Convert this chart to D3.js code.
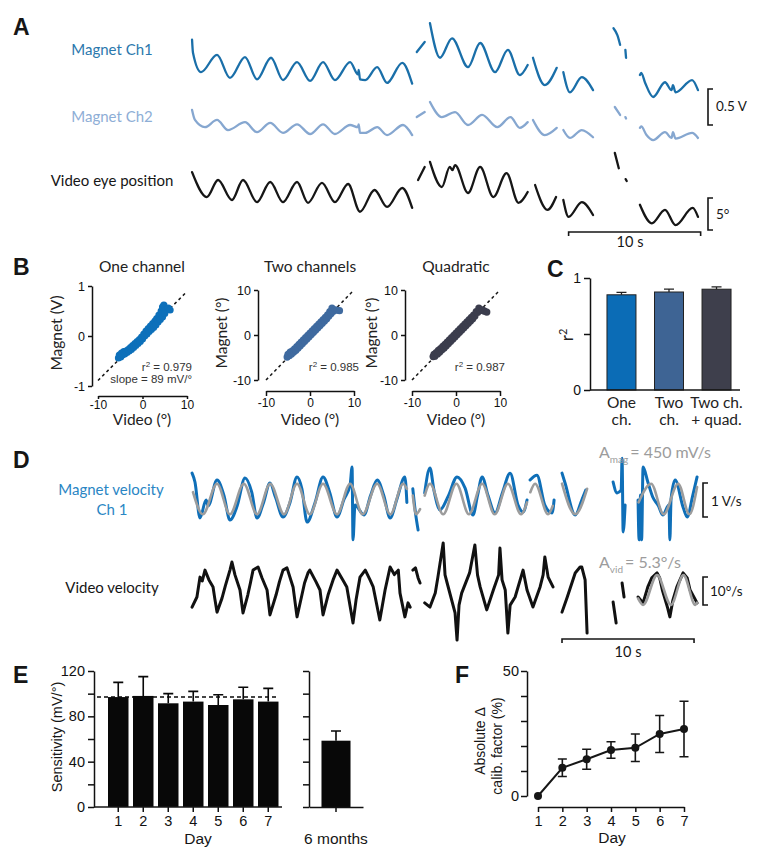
<!DOCTYPE html>
<html lang="en">
<head>
<meta charset="UTF-8">
<title>Magnet eye tracking calibration</title>
<script src="https://cdn.jsdelivr.net/npm/d3@7"></script>
<style>
  body { margin: 0; background: #fff; }
  svg text { font-family: Lato, "Open Sans", sans-serif; }
  .axis path, .axis line { stroke: #111; stroke-width: 1.5px; }
  .axis text { font-family: "Liberation Sans", Arial, sans-serif; fill: #111; }
  .num { font-family: "Liberation Sans", Arial, sans-serif !important; }
  .letter { font-family: "Liberation Sans", Arial, sans-serif !important; font-weight: bold; font-size: 23px; }
</style>
</head>
<body>
<script>
// ---------- A: position traces, [time s, value] per recording segment
const aCh1 = [
  [[0.08,0.42],[0.15,0.24],[0.76,-0.03],[1.97,0.21],[2.95,-0.11],[4.09,0.18],[5.0,-0.13],[6.06,0.17],[6.97,-0.14],[8.03,0.11],[9.02,-0.15],[10.0,0.11],[10.9,-0.14],[12.05,0.11],[12.65,-0.06],[12.7,0.0],[12.8,-0.13],[13.2,-0.14],[14.1,0.04],[14.85,-0.18],[16.0,0.10],[16.75,-0.19]],
  [[17.1,0.25],[17.4,0.32],[17.7,0.39]],
  [[18.1,0.65],[18.86,0.17],[19.77,0.44],[20.98,0.04],[21.9,0.375],[23.03,-0.03],[24.0,0.28],[24.9,-0.07],[25.5,0.07]],
  [[25.9,0.17],[26.8,-0.21],[27.7,0.03]],
  [[28.2,-0.03],[28.7,-0.31],[29.6,-0.10],[30.45,-0.28]],
  [[32.0,0.58],[32.3,0.48],[32.5,0.35]],
  [[32.9,0.28],[32.95,0.17]],
  [[34.0,-0.07],[34.1,-0.04],[34.4,-0.18],[35.0,-0.375],[35.9,-0.17],[36.4,-0.28],[36.5,-0.21],[36.7,-0.31],[37.95,-0.14],[38.4,-0.28]]
];
const aCh2 = [
  [[0.08,0.21],[0.3,0.07],[1.06,-0.03],[1.97,0.07],[2.8,-0.07],[4.09,0.04],[5.0,-0.10],[6.0,0.03],[6.97,-0.11],[8.03,0.01],[9.02,-0.125],[10.0,0.01],[10.9,-0.125],[12.05,0.0],[12.65,-0.03],[12.7,0.01],[12.8,-0.11],[13.2,-0.11],[14.1,-0.03],[14.85,-0.14],[16.06,0.0],[16.75,-0.14]],
  [[17.1,0.11],[17.7,0.18]],
  [[18.1,0.32],[19.0,0.11],[20.0,0.18],[20.98,0.0],[22.05,0.14],[23.2,-0.03],[24.2,0.11],[24.9,-0.04],[25.5,0.04]],
  [[25.9,0.07],[26.8,-0.14],[27.7,-0.04]],
  [[28.2,-0.07],[28.7,-0.18],[29.6,-0.07],[30.45,-0.17]],
  [[32.1,0.25],[32.5,0.14]],
  [[32.9,0.11],[32.95,0.09]],
  [[34.0,-0.04],[34.1,-0.02],[34.5,-0.14],[35.0,-0.21],[35.9,-0.10],[36.4,-0.18],[36.5,-0.10],[36.7,-0.19],[37.95,-0.11],[38.4,-0.18]]
];
const aVid = [
  [[0.08,2.8],[1.2,-1.1],[2.05,1.56],[3.1,-1.56],[3.94,1.56],[5.0,-1.9],[6.0,1.25],[6.97,-1.9],[8.03,1.25],[8.86,-2.0],[9.92,1.1],[10.9,-1.9],[11.9,0.94],[12.8,-3.4],[13.9,0.0],[14.85,-2.65],[16.0,0.31],[16.75,-2.8]],
  [[17.2,1.56],[17.7,3.6]],
  [[18.1,4.4],[19.0,0.47],[19.6,3.6],[19.8,3.1],[20.0,3.9],[20.98,-0.47],[21.9,3.6],[22.9,-1.1],[23.9,2.65],[24.8,-2.0],[25.5,-0.31]],
  [[26.06,0.78],[27.0,-3.1],[27.65,-1.1]],
  [[28.2,-1.56],[28.6,-4.2],[29.6,-1.9],[30.45,-3.9]],
  [[32.1,5.8],[32.4,3.4]],
  [[32.92,1.7],[33.0,1.4]],
  [[34.0,-2.3],[34.9,-5.2],[35.9,-3.1],[36.7,-5.5],[38.0,-2.8],[38.4,-4.2]]
];

// ---------- D: velocity traces (V/s and deg/s) and sine fits
const dMag = [
  [[0.08,0.76],[0.3,0.5],[0.68,-0.56],[1.14,-0.03],[1.3,-0.2],[1.97,0.56],[2.5,0.1],[2.95,-0.62],[3.5,-0.2],[4.09,0.62],[4.6,0.2],[5.0,-0.56],[5.5,-0.1],[5.98,0.47],[6.4,0.05],[6.97,-0.53],[7.5,-0.1],[8.03,0.65],[8.4,0.3],[8.79,-0.68],[9.4,-0.1],[10.0,0.65],[10.5,0.2],[11.06,-0.53],[11.6,0.0],[12.05,0.41],[12.2,0.94],[12.27,-1.2],[12.42,-0.18],[13.1,-0.47],[13.6,0.1],[14.1,0.56],[14.6,0.1],[15.08,-0.56],[15.6,0.0],[16.2,0.65],[16.35,-0.1]],
  [[16.8,0.3],[17.0,-0.4],[17.2,-0.91]],
  [[17.7,0.18],[18.1,0.91],[18.4,0.26],[18.86,-0.32],[19.5,0.1],[20.15,0.65],[20.76,0.32],[21.36,-0.47],[21.7,0.1],[22.05,0.65],[22.5,0.1],[23.03,-0.41],[23.6,0.2],[24.17,0.76],[24.77,-0.18],[25.15,-0.38],[25.45,-0.03]],
  [[25.68,0.56],[26.2,0.7],[26.8,-0.18],[27.35,-0.41],[27.5,-0.03]],
  [[28.1,0.76],[28.33,0.47],[29.1,-0.47],[29.6,-0.03],[29.9,0.26]],
  [[31.97,0.5],[32.27,0.18],[32.58,0.26],[32.65,1.2],[32.73,-0.97],[32.88,-0.18]],
  [[33.86,-0.03],[33.94,-1.2],[34.05,0.12],[34.13,-1.2],[34.24,0.94],[34.6,0.5],[34.97,0.06],[35.4,-0.2],[35.73,-0.47],[36.2,-0.18],[36.27,-1.2],[36.36,0.0],[36.67,0.56],[37.27,-0.24],[37.58,-0.53],[38.0,0.1],[38.33,0.65]]
];
const dMagFit = [
  [[0.15,0.2],[0.9,-0.45],[1.97,0.45],[2.95,-0.45],[4.0,0.45],[5.0,-0.45],[6.0,0.45],[7.05,-0.45],[8.03,0.45],[9.0,-0.45],[10.0,0.45],[11.06,-0.45],[12.05,0.45],[13.0,-0.45],[14.1,0.45],[15.1,-0.45],[16.06,0.45],[16.35,0.3]],
  [[16.8,0.1],[17.05,-0.45],[17.35,-0.3]],
  [[17.7,0.1],[18.1,0.45],[19.1,-0.45],[20.1,0.45],[21.05,-0.45],[22.05,0.45],[23.0,-0.45],[24.0,0.45],[25.0,-0.45],[25.45,-0.1]],
  [[25.7,0.2],[26.06,0.45],[27.05,-0.45],[27.4,-0.2]],
  [[28.1,0.45],[29.1,-0.45],[30.0,0.3]],
  [[33.9,-0.1],[34.85,0.45],[35.8,-0.45],[36.9,0.45],[37.75,-0.45],[38.33,0.35]]
];
const dVid = [
  [[0.08,-6.1],[0.45,-2.5],[0.68,4.6],[0.85,3.2],[1.06,7.1],[1.36,3.6],[1.67,1.1],[1.8,-3],[1.97,-7.9],[2.35,-2.9],[2.6,1.5],[2.95,7.1],[3.1,10],[3.33,5.4],[3.71,0],[3.94,-8.2],[4.3,-1.8],[4.5,2.5],[4.7,7.1],[5.08,8.2],[5.38,4.3],[5.76,0],[5.98,-8.9],[6.44,-1.8],[6.7,3],[6.97,7.1],[7.27,7.9],[7.73,1.1],[8.03,-9.6],[8.4,-1.8],[8.6,2.5],[8.86,6.1],[9.0,7.1],[9.47,2.9],[9.77,0],[10.0,-8.9],[10.38,-1.8],[10.76,3.6],[11.06,7.1],[11.5,3.6],[11.8,1.1],[12.27,-11.8],[12.5,-3.6],[12.8,4.6],[13.2,7.1],[13.56,3.6],[13.8,1.1],[14.3,-10.7],[14.7,0],[15.08,8.2],[15.4,5.5],[15.7,7.1],[15.83,-1.1],[16.2,-9.6],[16.44,-4.6],[16.6,-6.1]],
  [[16.8,7.1],[17.0,7.9],[17.2,4.3],[17.35,2.5]],
  [[17.7,-4.6],[18.1,-6.1],[18.5,-1.1],[18.7,4.6],[19.1,16.8],[19.24,5.4],[19.4,2.5],[20.0,-8.2],[20.15,-17.9],[20.3,-5.4],[20.5,-1.1],[21.1,6.1],[21.5,16.1],[21.7,5.4],[21.9,1.1],[22.4,-7.1],[22.9,0],[23.3,5.4],[23.4,15],[23.56,3.6],[23.8,0],[24.0,-15.4],[24.17,-5.4],[24.55,-2.5],[25.15,7.1],[25.45,0],[25.9,-6.1],[26.44,1.1],[26.67,5.4],[26.8,11.8],[27.05,4.6],[27.42,1.1]],
  [[28.1,-7.9],[28.5,-2.5],[29.1,6.1],[29.47,8.2],[29.6,8.2],[29.85,3.6],[30.0,-15.4]],
  [[31.97,-4.3],[32.2,-11.8]],
  [[32.65,2.5],[32.8,-2.5]],
  [[33.86,-2.5],[34.24,-4.6],[34.6,1.1],[34.9,4.3],[35.3,6.1],[35.5,4.3],[35.7,0],[36.1,-6.4],[36.27,-9.6],[36.5,-3.6],[36.8,1.1],[37.27,6.1],[37.58,4.3],[37.8,0],[38.33,-4.6]]
];
const dVidFit = [
  [[33.86,-3],[34.24,-5.3],[35.3,5.3],[36.35,-5.3],[37.3,5.3],[38.2,-5.3],[38.33,-4.5]]
];

// ---------- B: magnet vs video scatter, [video deg, magnet]
const bTitles = ["One channel", "Two channels", "Quadratic"];
const bYLabels = ["Magnet (V)", "Magnet (\u00B0)", "Magnet (\u00B0)"];
const bR2 = ["0.979", "0.985", "0.987"];
const bSlopes = [0.089, 1, 1];
const oneCh = [[-5.4,-0.44],[-5.2,-0.38],[-4.9,-0.42],[-4.7,-0.34],[-4.5,-0.38],[-4.2,-0.31],[-4,-0.36],[-3.7,-0.3],[-3.5,-0.33],[-3.2,-0.27],[-3,-0.3],[-2.7,-0.23],[-2.5,-0.27],[-2.2,-0.19],[-2,-0.23],[-1.7,-0.15],[-1.5,-0.19],[-1.2,-0.11],[-1,-0.15],[-0.7,-0.07],[-0.5,-0.11],[-0.2,-0.02],[0,-0.06],[0.3,0.04],[0.5,0],[0.8,0.1],[1,0.04],[1.3,0.15],[1.5,0.09],[1.8,0.2],[2,0.13],[2.3,0.25],[2.5,0.17],[2.8,0.3],[3,0.22],[3.2,0.35],[3.5,0.28],[3.7,0.42],[4,0.33],[4.2,0.5],[4.5,0.38],[4.5,0.58],[4.8,0.62],[5,0.45],[5.3,0.52],[5.8,0.56],[6.2,0.52]];
const twoCh = [[-5.2,-4.9],[-5,-4.3],[-4.7,-4.6],[-4.5,-3.8],[-4.2,-4.2],[-4,-3.5],[-3.7,-3.8],[-3.5,-3.1],[-3.2,-3.4],[-3,-2.6],[-2.7,-2.9],[-2.5,-2.1],[-2.2,-2.4],[-2,-1.6],[-1.7,-1.9],[-1.5,-1.1],[-1.2,-1.4],[-1,-0.6],[-0.7,-0.9],[-0.5,-0.1],[-0.2,-0.4],[0,0.4],[0.3,0.1],[0.5,0.9],[0.8,0.6],[1,1.4],[1.3,1.1],[1.5,1.9],[1.8,1.6],[2,2.4],[2.3,2.1],[2.5,2.9],[2.8,2.6],[3,3.4],[3.3,3.1],[3.5,3.9],[3.8,3.6],[4,4.5],[4.3,4.2],[4.5,5.2],[4.8,4.8],[5,6],[5.3,5.3],[5.7,5.6],[6.2,5.5],[6.7,5.4]];
const quadFit = [[-5.2,-4.8],[-5,-4.3],[-4.8,-4.7],[-4.5,-3.9],[-4.2,-4.2],[-4,-3.4],[-3.7,-3.8],[-3.5,-3],[-3.2,-3.3],[-3,-2.5],[-2.7,-2.9],[-2.5,-2.1],[-2.2,-2.4],[-2,-1.6],[-1.7,-1.9],[-1.5,-1.1],[-1.2,-1.4],[-1,-0.6],[-0.7,-0.9],[-0.5,-0.1],[-0.2,-0.4],[0,0.4],[0.3,0.1],[0.5,0.9],[0.8,0.6],[1,1.4],[1.3,1.1],[1.5,1.9],[1.8,1.6],[2,2.4],[2.3,2.1],[2.5,2.9],[2.8,2.6],[3,3.4],[3.3,3.1],[3.5,3.9],[3.8,3.6],[4,4.4],[4.3,4.2],[4.6,5.2],[4.9,5],[5.2,6],[5.5,5.4],[6,5.6],[6.5,5.3],[7,5.1]];

// ---------- C: r^2 per calibration model
const cCats = [["One", "ch."], ["Two", "ch."], ["Two ch.", "+ quad."]];
const cR2 = [0.85, 0.875, 0.90];
const cSem = [0.022, 0.025, 0.02];

// ---------- E: sensitivity per day
const eDays = [1, 2, 3, 4, 5, 6, 7];
const eSens = [97, 98, 91.5, 93, 90, 95, 93];
const eErr = [13, 17, 8.5, 9, 9, 10.6, 11.7];
const eMean = 97;
const eLate = ["6 months"];
const eLateSens = [58.5];
const eLateErr = [8.5];

// ---------- F: absolute change of calibration factor
const fDays = [1, 2, 3, 4, 5, 6, 7];
const fVals = [0, 11.3, 14.7, 18.4, 19.3, 24.8, 26.8];
const fErr = [0, 3.5, 4, 3.3, 5.5, 7.4, 11.1];

const BLUE = "#1a6fa9", LIGHT = "#86a7d0", INK = "#161616", GREY = "#9c9c9c";

const svg = d3.select("body").append("svg").attr("width", 764).attr("height", 852);

function txt(x, y, s, size, anchor, fill) {
  return svg.append("text").attr("x", x).attr("y", y).attr("font-size", size)
    .attr("text-anchor", anchor || "start").attr("fill", fill || INK).text(s);
}
function letter(x, y, s) { txt(x, y, s, 23).attr("class", "letter"); }
function styleAxis(g, fs) {
  g.attr("class", "axis").attr("font-size", fs);
  return g;
}
function vBracket(x, y0, y1) {
  svg.append("path").attr("d", `M${x + 5},${y0}H${x}V${y1}H${x + 5}`)
    .attr("fill", "none").attr("stroke", INK).attr("stroke-width", 1.6);
}
function hBar(x0, x1, y) {
  svg.append("path").attr("d", `M${x0},${y + 4}V${y}H${x1}V${y + 4}`)
    .attr("fill", "none").attr("stroke", INK).attr("stroke-width", 1.6);
}

// shared time axis for A and D
const xT = d3.scaleLinear().domain([0, 38.4]).range([191, 698]);
function traces(segs, y, color, w, curve) {
  const line = d3.line().x(d => xT(d[0])).y(d => y(d[1])).curve(curve || d3.curveLinear);
  svg.append("g").selectAll("path").data(segs).join("path")
    .attr("d", line).attr("fill", "none").attr("stroke", color).attr("stroke-width", w)
    .attr("stroke-linejoin", "round").attr("stroke-linecap", "round");
}

// ================= A
letter(13, 35, "A");
const yCh1 = d3.scaleLinear().domain([-0.5, 0.5]).range([106, 34]);
const yCh2 = d3.scaleLinear().domain([-0.5, 0.5]).range([161, 89]);
const yPos = d3.scaleLinear().domain([-5, 5]).range([222, 158]);
txt(112, 55, "Magnet Ch1", 15, "middle", "#2b78ad");
txt(112, 122, "Magnet Ch2", 15, "middle", "#8eaed6");
txt(112, 186, "Video eye position", 15, "middle");
traces(aCh1, yCh1, BLUE, 2.3, d3.curveMonotoneX);
traces(aCh2, yCh2, LIGHT, 2.3, d3.curveMonotoneX);
traces(aVid, yPos, INK, 2.3, d3.curveMonotoneX);
vBracket(708, yCh2(0.5), yCh2(0));
txt(716, 111, "0.5 V", 13.5);
vBracket(708, yPos(-1.25), yPos(-6.25));
txt(716, 219, "5\u00B0", 13.5);
hBar(xT(28.6), xT(38.6), 232);
txt(630, 247, "10 s", 14.5, "middle");

// ================= B
letter(13, 275, "B");
const bCfg = [
  { pts: oneCh, color: "#0d70ba", xr: [98, 187], yr: [386, 286], yd: [-1, 1], yt: [-1, 0, 1], ax: 396, ay: 92, lx: 62, tx: 142 },
  { pts: twoCh, color: "#3f6a9f", xr: [266, 354], yr: [380, 290], yd: [-10, 10], yt: [-10, 0, 10], ax: 391, ay: 258, lx: 227, tx: 310 },
  { pts: quadFit, color: "#3b3d4d", xr: [412, 500], yr: [380, 290], yd: [-10, 10], yt: [-10, 0, 10], ax: 391, ay: 405, lx: 377, tx: 456 }
];
bCfg.forEach((c, i) => {
  const x = d3.scaleLinear().domain([-10, 10]).range(c.xr);
  const y = d3.scaleLinear().domain(c.yd).range(c.yr);
  txt(c.tx, 272, bTitles[i], 15.5, "middle", "#222");
  styleAxis(svg.append("g").attr("transform", `translate(0,${c.ax})`)
    .call(d3.axisBottom(x).tickValues([-10, 0, 10]).tickFormat(String)
      .tickSize(i === 0 ? 3 : 5).tickSizeOuter(0).tickPadding(i === 0 ? 1 : 2)), 12);
  styleAxis(svg.append("g").attr("transform", `translate(${c.ay},0)`)
    .call(d3.axisLeft(y).tickValues(c.yt).tickFormat(String).tickSize(4).tickSizeOuter(0).tickPadding(3)), 12.5);
  svg.append("line")
    .attr("x1", x(-10)).attr("y1", y(-10 * bSlopes[i]))
    .attr("x2", x(10)).attr("y2", y(10 * bSlopes[i]))
    .attr("stroke", INK).attr("stroke-width", 1.5).attr("stroke-dasharray", "3,3");
  svg.append("g").selectAll("circle").data(c.pts).join("circle")
    .attr("cx", d => x(d[0])).attr("cy", d => y(d[1])).attr("r", 3.6).attr("fill", c.color);
  txt(c.tx, 425, "Video (\u00B0)", 15.5, "middle", "#222");
  svg.append("text").attr("transform", `translate(${c.lx},333) rotate(-90)`)
    .attr("text-anchor", "middle").attr("font-size", 15.5).attr("fill", "#222").text(bYLabels[i]);
  const r = svg.append("text").attr("class", "num").attr("x", x(10) + 5).attr("y", 371)
    .attr("text-anchor", "end").attr("font-size", 11.5).attr("fill", "#333");
  r.append("tspan").text("r");
  r.append("tspan").attr("font-size", 8).attr("dy", -4).text("2");
  r.append("tspan").attr("dy", 4).text(" = " + bR2[i]);
  if (i === 0) txt(x(10) + 5, 383, "slope = 89 mV/\u00B0", 11.5, "end", "#333").attr("class", "num");
});

// ================= C
letter(547, 277, "C");
const xC = d3.scaleBand().domain(d3.range(cR2.length)).range([597, 741]).paddingInner(0.39).paddingOuter(0.21);
const yC = d3.scaleLinear().domain([0, 1]).range([390, 278]);
const cColors = ["#0b6cb6", "#3e6494", "#3e3f4c"];
svg.append("g").selectAll("rect").data(cR2).join("rect")
  .attr("x", (d, i) => xC(i)).attr("y", d => yC(d)).attr("width", xC.bandwidth())
  .attr("height", d => yC(0) - yC(d)).attr("fill", (d, i) => cColors[i])
  .attr("stroke", "#222").attr("stroke-width", 1);
cR2.forEach((v, i) => {
  const cx = xC(i) + xC.bandwidth() / 2;
  svg.append("path").attr("d", `M${cx},${yC(v)}V${yC(v + cSem[i])}M${cx - 5},${yC(v + cSem[i])}H${cx + 5}`)
    .attr("stroke", "#222").attr("stroke-width", 1.3).attr("fill", "none");
  cCats[i].forEach((s, k) => txt(cx, 408 + k * 17, s, 15.5, "middle", "#222"));
});
styleAxis(svg.append("g").attr("transform", "translate(590,0)")
  .call(d3.axisLeft(yC).tickValues([0, 0.5, 1]).tickFormat(d => d === 0.5 ? "" : d).tickSize(6).tickSizeOuter(0).tickPadding(3)), 14);
svg.append("line").attr("x1", 590).attr("x2", 740).attr("y1", yC(0)).attr("y2", yC(0))
  .attr("stroke", INK).attr("stroke-width", 1.5);
const cl = svg.append("text").attr("transform", "translate(573,335) rotate(-90)")
  .attr("text-anchor", "middle").attr("font-size", 17).attr("fill", "#222");
cl.append("tspan").text("r");
cl.append("tspan").attr("font-size", 11).attr("dy", -6).text("2");

// ================= D
letter(13, 468, "D");
const yVel = d3.scaleLinear().domain([-1, 1]).range([533, 465]);
const yVv = d3.scaleLinear().domain([-10, 10]).range([618, 562]);
txt(111, 495, "Magnet velocity", 15, "middle", "#2a86c4");
txt(112, 515, "Ch 1", 15, "middle", "#2a86c4");
txt(112, 593, "Video velocity", 15, "middle");
traces(dMag, yVel, "#0f6fb8", 3, d3.curveMonotoneX);
traces(dMagFit, yVel, GREY, 2.6, d3.curveMonotoneX);
traces(dVid, yVv, "#111", 3);
traces(dVidFit, yVv, GREY, 2.6, d3.curveMonotoneX);
function amp(y, sub, rest) {
  const t = txt(599, y, "A", 16, "start", GREY);
  t.append("tspan").attr("font-size", 10).attr("dy", 5).text(sub);
  t.append("tspan").attr("dy", -5).attr("dx", 2).text(rest);
}
amp(458, "mag", "= 450 mV/s");
amp(568, "vid", "= 5.3\u00B0/s");
vBracket(703, yVel(0.47), yVel(-0.53));
txt(711, 506, "1 V/s", 13.5);
vBracket(703, yVv(4.64), yVv(-5.36));
txt(710, 596, "10\u00B0/s", 13.5);
hBar(xT(28.1), xT(38.1), 639);
txt(628, 657, "10 s", 14.5, "middle");

// ================= E
letter(13, 683, "E");
const yE = d3.scaleLinear().domain([0, 120]).range([807, 671]);
const xE = d3.scaleBand().domain(eDays).range([100.5, 286]).paddingInner(0.18).paddingOuter(0.3);
const xE2 = d3.scaleBand().domain(eLate).range([309, 363]).paddingInner(0).paddingOuter(0.43);
svg.append("g").selectAll("rect").data(eSens).join("rect")
  .attr("x", (d, i) => xE(eDays[i])).attr("y", d => yE(d)).attr("width", xE.bandwidth())
  .attr("height", d => yE(0) - yE(d)).attr("fill", "#080808");
svg.append("g").selectAll("path").data(eSens).join("path")
  .attr("d", (d, i) => {
    const cx = xE(eDays[i]) + xE.bandwidth() / 2, top = yE(d + eErr[i]);
    return `M${cx},${yE(d)}V${top}M${cx - 5},${top}H${cx + 5}`;
  }).attr("stroke", "#080808").attr("stroke-width", 1.6).attr("fill", "none");
svg.append("line").attr("x1", 97).attr("x2", 279).attr("y1", yE(eMean)).attr("y2", yE(eMean))
  .attr("stroke", "#080808").attr("stroke-width", 1.6).attr("stroke-dasharray", "4,3");
styleAxis(svg.append("g").attr("transform", "translate(94,0)")
  .call(d3.axisLeft(yE).tickValues([0, 20, 40, 60, 80, 100, 120]).tickFormat(d => d % 40 === 0 ? d : "")
    .tickSize(6).tickSizeOuter(0).tickPadding(3)), 14.5);
const exa = styleAxis(svg.append("g").attr("transform", "translate(0,807)")
  .call(d3.axisBottom(xE).tickSize(5).tickPadding(4)), 14.5);
exa.select(".domain").remove();
svg.append("line").attr("x1", 94).attr("x2", 282).attr("y1", 807).attr("y2", 807)
  .attr("stroke", INK).attr("stroke-width", 1.5);
txt(198, 844, "Day", 15.5, "middle").attr("class", "num");
svg.append("text").attr("class", "num").attr("transform", "translate(62,737) rotate(-90)")
  .attr("text-anchor", "middle").attr("font-size", 14.5).attr("fill", INK).text("Sensitivity (mV/\u00B0)");
svg.append("g").selectAll("rect").data(eLateSens).join("rect")
  .attr("x", (d, i) => xE2(eLate[i])).attr("y", d => yE(d)).attr("width", xE2.bandwidth())
  .attr("height", d => yE(0) - yE(d)).attr("fill", "#080808");
eLateSens.forEach((v, i) => {
  const cx = xE2(eLate[i]) + xE2.bandwidth() / 2, top = yE(v + eLateErr[i]);
  svg.append("path").attr("d", `M${cx},${yE(v)}V${top}M${cx - 5},${top}H${cx + 5}`)
    .attr("stroke", "#080808").attr("stroke-width", 1.6).attr("fill", "none");
});
styleAxis(svg.append("g").attr("transform", "translate(309,0)")
  .call(d3.axisLeft(yE).tickValues([0, 20, 40, 60, 80, 100, 120]).tickFormat("").tickSize(6).tickSizeOuter(0)), 14);
styleAxis(svg.append("g").attr("transform", "translate(0,807)")
  .call(d3.axisBottom(xE2).tickSize(5).tickFormat("").tickSizeOuter(0)), 14);
txt(336, 844, eLate[0], 15.5, "middle").attr("class", "num");

// ================= F
letter(455, 683, "F");
const yF = d3.scaleLinear().domain([0, 50]).range([796, 671]);
const xF = d3.scaleLinear().domain([1, 7]).range([538, 684]);
styleAxis(svg.append("g").attr("transform", "translate(527,0)")
  .call(d3.axisLeft(yF).tickValues([0, 10, 20, 30, 40, 50]).tickFormat(d => (d === 0 || d === 50) ? d : "")
    .tickSize(6).tickSizeOuter(0).tickPadding(2)), 14.5);
styleAxis(svg.append("g").attr("transform", "translate(0,807)")
  .call(d3.axisBottom(xF).tickValues(fDays).tickFormat(String).tickSize(5).tickSizeOuter(0).tickPadding(4)), 14.5);
svg.append("path").datum(fVals)
  .attr("d", d3.line().x((d, i) => xF(fDays[i])).y(d => yF(d)))
  .attr("fill", "none").attr("stroke", INK).attr("stroke-width", 2);
svg.append("g").selectAll("path").data(fVals).join("path")
  .attr("d", (d, i) => {
    if (!fErr[i]) return null;
    const cx = xF(fDays[i]), lo = yF(d - fErr[i]), hi = yF(d + fErr[i]);
    return `M${cx},${lo}V${hi}M${cx - 4.5},${hi}H${cx + 4.5}M${cx - 4.5},${lo}H${cx + 4.5}`;
  }).attr("stroke", INK).attr("stroke-width", 1.6).attr("fill", "none");
svg.append("g").selectAll("circle").data(fVals).join("circle")
  .attr("cx", (d, i) => xF(fDays[i])).attr("cy", d => yF(d)).attr("r", 4).attr("fill", INK);
txt(612, 843, "Day", 15.5, "middle").attr("class", "num");
svg.append("text").attr("class", "num").attr("transform", "translate(485,741) rotate(-90)")
  .attr("text-anchor", "middle").attr("font-size", 14).attr("fill", INK).text("Absolute \u0394");
svg.append("text").attr("class", "num").attr("transform", "translate(502,746) rotate(-90)")
  .attr("text-anchor", "middle").attr("font-size", 14).attr("fill", INK).text("calib. factor (%)");
</script>
</body>
</html>
